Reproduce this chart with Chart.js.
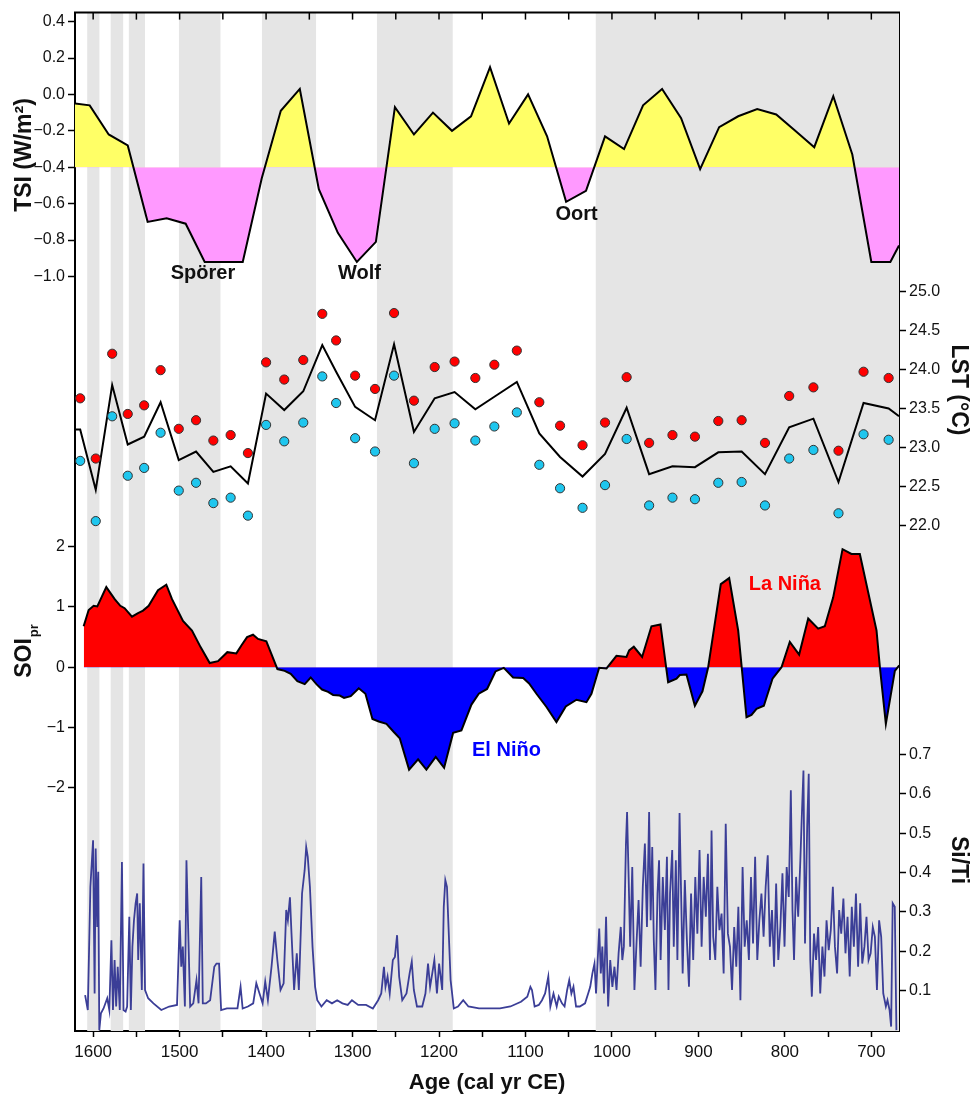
<!DOCTYPE html>
<html lang="en">
<head>
<meta charset="UTF-8">
<title>TSI, LST, SOIpr and Si/Ti</title>
<script src="https://cdn.jsdelivr.net/npm/chart.js"></script>
<style>
  body { margin: 0; background: #fff; }
  #wrap { width: 973px; height: 1096px; position: relative; }
</style>
</head>
<body>
<div id="wrap"><canvas id="chart"></canvas></div>
<script>
// ---- data (years are cal yr CE) ----
const xTicks = [1600, 1550, 1500, 1450, 1400, 1350, 1300, 1250, 1200, 1150, 1100, 1050, 1000, 950, 900, 850, 800, 750, 700];
const tsiTicks = [0.4, 0.2, 0.0, -0.2, -0.4, -0.6, -0.8, -1.0];
const lstTicks = [25.0, 24.5, 24.0, 23.5, 23.0, 22.5, 22.0];
const soiTicks = [2, 1, 0, -1, -2];
const siTicks = [0.7, 0.6, 0.5, 0.4, 0.3, 0.2, 0.1];

// grey shaded intervals
const bandStart = [1607, 1580, 1559, 1501, 1405, 1272, 1019];
const bandEnd = [1592.5, 1565, 1540, 1452.5, 1342, 1184, 668];

// total solar irradiance anomaly
const tsiYears = [1621, 1604, 1582, 1560, 1537, 1515, 1493, 1471, 1449, 1427, 1405, 1383, 1361, 1339, 1317, 1295, 1273, 1251, 1229, 1207, 1185, 1163, 1141, 1119, 1097, 1075, 1053, 1030, 1008, 986, 964, 942, 920, 898, 876, 854, 832, 810, 788, 766, 744, 722, 700, 678, 668];
const tsiValues = [-0.05, -0.06, -0.22, -0.28, -0.70, -0.68, -0.71, -0.92, -0.92, -0.92, -0.46, -0.09, 0.03, -0.52, -0.76, -0.92, -0.81, -0.07, -0.22, -0.10, -0.20, -0.12, 0.15, -0.16, 0.00, -0.23, -0.59, -0.53, -0.23, -0.30, -0.06, 0.03, -0.13, -0.41, -0.18, -0.12, -0.08, -0.11, -0.20, -0.29, -0.01, -0.33, -0.92, -0.92, -0.83];

// lake surface temperature
const lstYears = [1615, 1597, 1578, 1560, 1541, 1522, 1501, 1481, 1461, 1441, 1421, 1400, 1379, 1357, 1335, 1319, 1297, 1274, 1252, 1229, 1205, 1182, 1158, 1136, 1110, 1084, 1060, 1034, 1008, 983, 957, 930, 904, 877, 850, 823, 795, 767, 738, 709, 680];
const lstWarm = [23.63, 22.86, 24.20, 23.43, 23.54, 23.99, 23.24, 23.35, 23.09, 23.16, 22.93, 24.09, 23.87, 24.12, 24.71, 24.37, 23.92, 23.75, 24.72, 23.60, 24.03, 24.10, 23.89, 24.06, 24.24, 23.58, 23.28, 23.03, 23.32, 23.90, 23.06, 23.16, 23.14, 23.34, 23.35, 23.06, 23.66, 23.77, 22.96, 23.97, 23.89];
const lstCool = [22.83, 22.06, 23.40, 22.64, 22.74, 23.19, 22.45, 22.55, 22.29, 22.36, 22.13, 23.29, 23.08, 23.32, 23.91, 23.57, 23.12, 22.95, 23.92, 22.80, 23.24, 23.31, 23.09, 23.27, 23.45, 22.78, 22.48, 22.23, 22.52, 23.11, 22.26, 22.36, 22.34, 22.55, 22.56, 22.26, 22.86, 22.97, 22.16, 23.17, 23.10];
const lstLineYears = [1621, 1615, 1597, 1578, 1560, 1541, 1522, 1501, 1481, 1461, 1441, 1421, 1400, 1379, 1357, 1335, 1319, 1297, 1274, 1252, 1229, 1205, 1182, 1158, 1136, 1110, 1084, 1060, 1034, 1008, 983, 957, 930, 904, 877, 850, 823, 795, 767, 738, 709, 680, 668];
const lstLine = [23.23, 23.23, 22.46, 23.80, 23.04, 23.14, 23.58, 22.84, 22.95, 22.69, 22.76, 22.54, 23.69, 23.48, 23.72, 24.31, 23.97, 23.52, 23.35, 24.32, 23.20, 23.63, 23.71, 23.49, 23.65, 23.84, 23.18, 22.88, 22.63, 22.92, 23.51, 22.66, 22.76, 22.75, 22.94, 22.95, 22.66, 23.26, 23.37, 22.56, 23.57, 23.50, 23.40];

// SOI (precipitation based)
const soiYears = [1611, 1605.2, 1599.4, 1595.2, 1584.8, 1575.1, 1568.6, 1563.6, 1555.1, 1548.1, 1542.3, 1535.8, 1525, 1515.4, 1508.8, 1496.1, 1485.7, 1475.6, 1465.2, 1455.6, 1444.8, 1434.4, 1428.6, 1422, 1415.1, 1409.3, 1399.7, 1393.9, 1386.9, 1378.5, 1371.5, 1363.8, 1355.3, 1348.4, 1341.8, 1335.3, 1328.3, 1322.5, 1314.8, 1309.8, 1302.1, 1292.8, 1285.1, 1277, 1269.7, 1260.8, 1252, 1245.4, 1234.6, 1224.2, 1214.6, 1203.8, 1194.1, 1183.7, 1174.1, 1162.5, 1154, 1144.4, 1134.7, 1125.1, 1114.3, 1102.7, 1095.8, 1087.3, 1075.7, 1064.2, 1053.4, 1041, 1029.5, 1023.7, 1014.8, 1006.3, 994.8, 983.2, 980.1, 974.7, 965.1, 954.3, 943.9, 935, 925.3, 921.5, 913.8, 904.1, 895.3, 888.7, 874.1, 864.4, 854, 844.4, 838.6, 832.8, 824.3, 814.3, 803.9, 794.3, 783.5, 773, 761.5, 753.8, 744.1, 733.3, 723, 713.3, 694, 690.1, 683.2, 672.8, 667.7];
const soiValues = [0.68, 0.95, 1.02, 1.01, 1.33, 1.13, 1.02, 0.98, 0.84, 0.90, 0.94, 1.02, 1.28, 1.37, 1.13, 0.77, 0.61, 0.33, 0.07, 0.10, 0.25, 0.23, 0.36, 0.50, 0.54, 0.47, 0.43, 0.22, -0.03, -0.06, -0.11, -0.23, -0.28, -0.17, -0.28, -0.37, -0.41, -0.46, -0.47, -0.51, -0.48, -0.35, -0.44, -0.86, -0.90, -0.94, -1.08, -1.18, -1.70, -1.53, -1.70, -1.49, -1.67, -1.09, -1.05, -0.62, -0.44, -0.36, -0.07, -0.01, -0.17, -0.18, -0.27, -0.44, -0.66, -0.91, -0.65, -0.54, -0.58, -0.44, -0.01, -0.02, 0.19, 0.17, 0.28, 0.34, 0.17, 0.68, 0.71, -0.25, -0.19, -0.13, -0.12, -0.64, -0.40, 0.00, 1.38, 1.48, 0.61, -0.83, -0.79, -0.69, -0.64, -0.19, 0.00, 0.42, 0.21, 0.81, 0.64, 0.68, 1.16, 1.96, 1.88, 1.88, 0.61, 0.00, -0.94, -0.06, 0.03];

// Si/Ti ratio, [year, value]
const siTi = [[1609.3,0.089],[1606.2,0.051],[1603.2,0.364],[1600.1,0.482],[1598.3,0.093],[1597.1,0.461],[1595.3,0.262],[1594.1,0.402],[1592.9,0.000],[1591.0,0.043],[1588.0,0.055],[1583.7,0.081],[1581.3,0.051],[1578.9,0.228],[1577.1,0.051],[1575.2,0.178],[1573.4,0.060],[1571.6,0.161],[1569.2,0.051],[1566.7,0.427],[1564.9,0.051],[1562.5,0.047],[1560.7,0.060],[1558.2,0.288],[1556.4,0.051],[1554.6,0.212],[1552.8,0.279],[1550.9,0.322],[1549.1,0.347],[1547.9,0.178],[1546.1,0.322],[1543.7,0.102],[1541.8,0.423],[1540.0,0.102],[1536.4,0.081],[1530.3,0.068],[1521.2,0.051],[1512.1,0.060],[1503.0,0.064],[1499.9,0.279],[1498.1,0.161],[1496.3,0.212],[1493.9,0.060],[1492.1,0.431],[1489.6,0.212],[1487.8,0.060],[1484.2,0.068],[1480.5,0.127],[1478.1,0.068],[1475.0,0.389],[1473.2,0.068],[1469.6,0.068],[1464.7,0.076],[1459.9,0.161],[1457.4,0.169],[1454.4,0.169],[1452.0,0.051],[1445.3,0.055],[1439.2,0.055],[1433.1,0.055],[1429.5,0.110],[1427.1,0.055],[1421.0,0.060],[1414.9,0.068],[1411.3,0.119],[1407.6,0.093],[1404.0,0.068],[1401.0,0.123],[1397.9,0.076],[1393.7,0.161],[1390.0,0.250],[1387.0,0.178],[1383.3,0.102],[1379.7,0.119],[1376.7,0.305],[1374.8,0.279],[1372.4,0.337],[1370.6,0.245],[1367.6,0.102],[1364.5,0.195],[1362.1,0.102],[1358.4,0.347],[1355.4,0.406],[1353.6,0.465],[1351.8,0.440],[1349.3,0.364],[1346.3,0.212],[1343.3,0.110],[1340.8,0.076],[1336.0,0.060],[1329.9,0.076],[1323.8,0.068],[1317.8,0.076],[1311.7,0.068],[1305.6,0.064],[1300.7,0.076],[1293.5,0.064],[1284.4,0.064],[1276.5,0.055],[1270.4,0.076],[1266.8,0.093],[1263.7,0.161],[1261.9,0.110],[1259.5,0.136],[1257.0,0.093],[1253.4,0.178],[1251.0,0.186],[1248.5,0.241],[1246.1,0.136],[1242.5,0.076],[1237.6,0.093],[1234.0,0.144],[1231.5,0.174],[1229.1,0.102],[1225.5,0.060],[1219.4,0.060],[1215.7,0.093],[1212.7,0.169],[1210.3,0.110],[1207.8,0.144],[1205.4,0.178],[1202.4,0.093],[1199.9,0.169],[1196.3,0.102],[1194.5,0.313],[1192.7,0.381],[1190.8,0.364],[1189.0,0.262],[1186.6,0.127],[1182.9,0.055],[1178.1,0.060],[1172.0,0.076],[1166.0,0.060],[1153.8,0.055],[1141.6,0.055],[1129.5,0.055],[1117.4,0.060],[1105.2,0.072],[1097.9,0.085],[1094.3,0.110],[1092.5,0.102],[1089.4,0.060],[1084.6,0.064],[1080.9,0.076],[1077.3,0.093],[1073.6,0.136],[1071.2,0.060],[1067.6,0.093],[1063.9,0.060],[1061.5,0.085],[1057.8,0.068],[1054.8,0.060],[1051.8,0.102],[1049.4,0.127],[1046.9,0.093],[1044.5,0.110],[1041.5,0.060],[1037.2,0.060],[1031.1,0.068],[1027.5,0.093],[1025.1,0.110],[1022.6,0.144],[1020.2,0.169],[1018.4,0.093],[1016.5,0.178],[1014.7,0.258],[1012.9,0.144],[1011.1,0.212],[1009.2,0.093],[1006.8,0.288],[1004.4,0.060],[1002.0,0.178],[999.5,0.110],[997.1,0.161],[994.7,0.102],[992.3,0.195],[989.8,0.262],[988.0,0.178],[986.2,0.212],[983.8,0.474],[982.5,0.554],[980.7,0.389],[978.9,0.212],[976.5,0.414],[974.0,0.102],[971.6,0.220],[969.2,0.330],[966.8,0.161],[964.3,0.364],[961.9,0.474],[959.5,0.262],[957.0,0.554],[955.2,0.279],[953.4,0.465],[951.6,0.228],[949.7,0.102],[947.3,0.347],[945.5,0.431],[943.7,0.178],[941.2,0.389],[938.8,0.254],[936.4,0.440],[934.6,0.102],[932.8,0.347],[930.3,0.457],[928.5,0.212],[926.1,0.431],[924.3,0.178],[921.8,0.551],[920.0,0.347],[918.2,0.144],[915.7,0.381],[913.3,0.228],[910.9,0.110],[908.5,0.347],[906.0,0.178],[903.6,0.389],[901.2,0.245],[898.7,0.457],[896.3,0.212],[893.9,0.389],[891.4,0.288],[889.0,0.448],[886.6,0.178],[884.8,0.507],[882.9,0.237],[880.5,0.178],[878.1,0.364],[875.7,0.254],[873.2,0.296],[870.8,0.144],[868.4,0.524],[865.9,0.245],[863.5,0.212],[861.1,0.102],[858.6,0.262],[856.2,0.161],[853.8,0.313],[851.4,0.076],[848.9,0.414],[846.5,0.212],[844.1,0.279],[841.6,0.178],[839.2,0.389],[836.8,0.220],[834.4,0.440],[831.9,0.178],[829.5,0.279],[827.1,0.347],[824.6,0.237],[822.2,0.364],[819.8,0.444],[817.4,0.212],[814.9,0.305],[812.5,0.161],[810.1,0.372],[807.6,0.178],[805.2,0.262],[802.8,0.398],[800.4,0.212],[797.9,0.414],[795.5,0.338],[793.1,0.609],[791.2,0.305],[789.4,0.178],[787.0,0.389],[784.6,0.288],[782.1,0.431],[780.3,0.550],[778.5,0.659],[776.7,0.220],[774.2,0.516],[772.4,0.651],[770.6,0.178],[768.8,0.085],[766.3,0.245],[763.9,0.178],[761.5,0.262],[759.1,0.093],[756.6,0.212],[754.2,0.136],[751.8,0.279],[749.3,0.203],[746.9,0.254],[744.5,0.364],[742.1,0.212],[739.6,0.144],[737.2,0.305],[734.8,0.245],[732.3,0.334],[729.9,0.195],[727.5,0.288],[725.0,0.136],[722.6,0.313],[720.2,0.212],[717.8,0.347],[715.3,0.161],[712.9,0.322],[710.5,0.169],[708.0,0.212],[705.6,0.288],[703.2,0.178],[700.8,0.195],[698.3,0.262],[695.9,0.237],[693.5,0.102],[691.0,0.279],[688.6,0.237],[686.2,0.093],[683.2,0.060],[681.3,0.076],[678.9,0.051],[677.1,0.009],[675.3,0.322],[672.9,0.313],[671.0,0.000]];

// text labels placed in data units
const tsiLabels = [['Spörer', 1473, -0.985], ['Wolf', 1292, -0.985], ['Oort', 1041, -0.66]];
const soiLabels = [['La Niña', 800, 1.37, '#ff0000'], ['El Niño', 1122, -1.38, '#0000ff']];

// ---- chart ----
const FONT = '"Liberation Sans", Arial, Helvetica, sans-serif';
Chart.defaults.font.family = FONT;

function pts(xs, ys) { return xs.map((x, i) => ({x: x, y: ys[i]})); }
function fixedTicks(list) { return scale => { scale.ticks = list.map(v => ({value: v})); }; }
function fmt(dec) { return v => (v < 0 ? '\u2212' : '') + Math.abs(v).toFixed(dec); }

const bandData = [];
bandStart.forEach((s, i) => {
  bandData.push({x: s, y: 1}, {x: bandEnd[i], y: 1}, {x: bandEnd[i], y: null});
});

function yAxis(pos, stackWeight, weight, min, max, ticks, dec) {
  return {
    type: 'linear', position: pos, stack: 'side', stackWeight: stackWeight, weight: weight,
    min: min, max: max,
    afterBuildTicks: fixedTicks(ticks),
    afterFit: s => { s.width = pos === 'left' ? 75 : 74; },
    grid: {drawOnChartArea: false, drawTicks: true, tickLength: 7, tickWidth: 1.5, tickColor: '#000'},
    border: {display: true, color: '#000', width: 2},
    ticks: {color: '#111', font: {size: 16}, padding: 3, callback: fmt(dec)}
  };
}

const frame = {
  id: 'frame',
  afterDraw(chart) {
    const {ctx, chartArea: a, scales} = chart;
    ctx.save();
    ctx.strokeStyle = '#000';
    ctx.lineWidth = 2;
    ctx.beginPath();
    ctx.moveTo(a.left - 1, a.top);
    ctx.lineTo(a.right + 1, a.top);
    ctx.stroke();
    ctx.lineWidth = 1.5;
    xTicks.forEach(v => {
      const px = scales.x.getPixelForValue(v);
      ctx.beginPath();
      ctx.moveTo(px, a.top);
      ctx.lineTo(px, a.top + 7);
      ctx.stroke();
    });
    ctx.restore();
  }
};

const annotations = {
  id: 'annotations',
  afterDatasetsDraw(chart) {
    const {ctx, scales} = chart;
    ctx.save();
    ctx.font = 'bold 20px ' + FONT;
    ctx.textAlign = 'center';
    ctx.textBaseline = 'middle';
    ctx.fillStyle = '#111';
    tsiLabels.forEach(l => ctx.fillText(l[0], scales.x.getPixelForValue(l[1]), scales.yTsi.getPixelForValue(l[2])));
    soiLabels.forEach(l => {
      ctx.fillStyle = l[3];
      ctx.fillText(l[0], scales.x.getPixelForValue(l[1]), scales.ySoi.getPixelForValue(l[2]));
    });
    ctx.restore();
  }
};

function rotText(ctx, parts, x, y, angle) {
  ctx.save();
  ctx.translate(x, y);
  ctx.rotate(angle);
  ctx.textBaseline = 'middle';
  ctx.textAlign = 'left';
  let total = 0;
  parts.forEach(p => { ctx.font = p.font; p.w = ctx.measureText(p.text).width; total += p.w + (p.gap || 0); });
  let cx = -total / 2;
  parts.forEach(p => {
    ctx.font = p.font;
    cx += p.gap || 0;
    ctx.fillText(p.text, cx, p.dy || 0);
    cx += p.w;
  });
  ctx.restore();
}

const axisTitles = {
  id: 'axisTitles',
  afterDraw(chart) {
    const ctx = chart.ctx;
    const big = 'bold 23px ' + FONT;
    ctx.save();
    ctx.fillStyle = '#111';
    rotText(ctx, [{text: 'TSI (W/m\u00B2)', font: big}], 25, 155, -Math.PI / 2);
    rotText(ctx, [{text: 'SOI', font: big}, {text: 'pr', font: 'bold 13px ' + FONT, dy: 9, gap: 1}], 25, 651, -Math.PI / 2);
    rotText(ctx, [{text: 'LST (\u00B0C)', font: big}], 958, 390, Math.PI / 2);
    rotText(ctx, [{text: 'Si/Ti', font: big}], 958, 860, Math.PI / 2);
    ctx.restore();
  }
};

new Chart(document.getElementById('chart'), {
  type: 'line',
  data: {
    datasets: [
      {label: 'LST warm', data: pts(lstYears, lstWarm), yAxisID: 'yLst', showLine: false,
       pointRadius: 4.6, pointBackgroundColor: '#ff0000', pointBorderColor: '#333', pointBorderWidth: 1, order: 1},
      {label: 'LST cool', data: pts(lstYears, lstCool), yAxisID: 'yLst', showLine: false,
       pointRadius: 4.6, pointBackgroundColor: '#1fc6ee', pointBorderColor: '#333', pointBorderWidth: 1, order: 1},
      {label: 'LST', data: pts(lstLineYears, lstLine), yAxisID: 'yLst', borderColor: '#000', borderWidth: 2,
       pointRadius: 0, fill: false, order: 2},
      {label: 'TSI', data: pts(tsiYears, tsiValues), yAxisID: 'yTsi', borderColor: '#000', borderWidth: 2,
       pointRadius: 0, fill: {target: {value: -0.4}, above: '#ffff66', below: '#ff99ff'}, order: 3},
      {label: 'SOIpr', data: pts(soiYears, soiValues), yAxisID: 'ySoi', borderColor: '#000', borderWidth: 2,
       pointRadius: 0, fill: {target: {value: 0}, above: '#ff0000', below: '#0000ff'}, order: 3},
      {label: 'Si/Ti', data: siTi.map(p => ({x: p[0], y: p[1]})), yAxisID: 'ySi', borderColor: '#3b3e97',
       borderWidth: 1.8, pointRadius: 0, fill: false, order: 4},
      {label: 'bands', data: bandData, yAxisID: 'yb', borderWidth: 0, backgroundColor: '#e5e5e5',
       pointRadius: 0, fill: 'start', order: 10}
    ]
  },
  options: {
    responsive: true,
    maintainAspectRatio: false,
    animation: false,
    events: [],
    layout: {padding: {top: 11, left: 0, right: 0, bottom: 0}},
    elements: {line: {tension: 0}},
    plugins: {legend: {display: false}, tooltip: {enabled: false}},
    scales: {
      x: {
        type: 'linear', position: 'bottom', reverse: true, min: 668, max: 1621,
        afterBuildTicks: fixedTicks(xTicks),
        afterFit: s => { s.height = 65; },
        grid: {drawOnChartArea: false, tickLength: 6, tickWidth: 1.5, tickColor: '#000'},
        border: {color: '#000', width: 2},
        ticks: {autoSkip: false, maxRotation: 0, padding: 5, color: '#111', font: {size: 17},
                callback: v => (v % 100 === 0 ? String(v) : '')},
        title: {display: true, text: 'Age (cal yr CE)', color: '#111',
                font: {size: 22, weight: 'bold'}, padding: {top: 0, bottom: 0}}
      },
      yTsi: yAxis('left', 2, 2, -1.788, 0.4494, tsiTicks, 1),
      ySoi: yAxis('left', 3, 1, -6.039, 4.105, soiTicks, 0),
      yLst: yAxis('right', 3, 1, 20.749, 28.562, lstTicks, 1),
      ySi: yAxis('right', 2, 2, -0.0022, 1.032, siTicks, 1),
      yb: {type: 'linear', display: false, min: 0, max: 1}
    }
  },
  plugins: [frame, annotations, axisTitles]
});
</script>
</body>
</html>
